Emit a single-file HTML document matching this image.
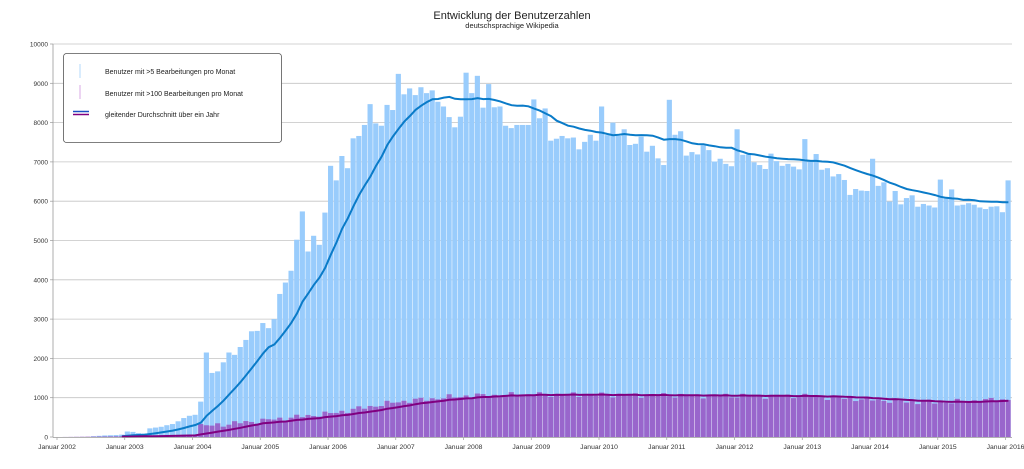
<!DOCTYPE html>
<html><head><meta charset="utf-8"><style>
html,body{margin:0;padding:0;background:#fff;}
svg{display:block;font-family:"Liberation Sans","DejaVu Sans",sans-serif;}
</style></head><body>
<svg id="c" width="1024" height="469" viewBox="0 0 1024 469" xmlns="http://www.w3.org/2000/svg">
<rect width="1024" height="469" fill="#fff"/>
<text x="512" y="19" font-size="11" text-anchor="middle" fill="#222">Entwicklung der Benutzerzahlen</text>
<text x="512" y="28" font-size="7.5" text-anchor="middle" fill="#222">deutschsprachige Wikipedia</text>
<g id="grid"></g>
<g id="bars"></g>
<g id="lines"></g>
<g id="axes"></g>
<g>
<rect x="63.5" y="53.5" width="218" height="89" rx="3" fill="#fff" stroke="#555" stroke-width="0.8"/>
<line x1="80" y1="64" x2="80" y2="78" stroke="#bfe0fb" stroke-width="1.2"/>
<text x="105" y="74" font-size="7" fill="#222">Benutzer mit &gt;5 Bearbeitungen pro Monat</text>
<line x1="80" y1="85" x2="80" y2="99" stroke="#e0b8e8" stroke-width="1.2"/>
<text x="105" y="96" font-size="7" fill="#222">Benutzer mit &gt;100 Bearbeitungen pro Monat</text>
<line x1="73" y1="111.5" x2="89" y2="111.5" stroke="#1a4fc4" stroke-width="1.5"/>
<line x1="73" y1="114.5" x2="89" y2="114.5" stroke="#800080" stroke-width="1.5"/>
<text x="105" y="117" font-size="7" fill="#222">gleitender Durchschnitt über ein Jahr</text>
</g>
</svg>
<script>
(function(){
var NS="http://www.w3.org/2000/svg";
function el(p,t,a,txt){var e=document.createElementNS(NS,t);for(var k in a)e.setAttribute(k,a[k]);if(txt!==undefined)e.textContent=txt;p.appendChild(e);return e;}
var X0=57,MW=5.646,Y0=437,S=0.0393;
function Y(v){return Y0-v*S;}
var early=[0,0,0,0,0,0,20,30,40,45,50,60,140,130,100,90,220,240,260,300,330,400];
var z4=[482,540,565,900,2150,1630,1670,1900,2150,2090,2290,2470,2690,2700,2900,2770,3000,3640,3930,4230,5020,5740,4720,5120,4890,5710,6900,6530,7150,6840,7600,7660,7940,8470,7980,7920,8450,8320,9240,8720,8870,8700,8900,8750,8820,8530,8410,8140,7880,8150,9270,8750,9190,8380,8980,8390,8410,7920,7860,7940];
var z5=[8590,8110,8360,7540,7590,7660,7600,7620,7320,7510,7690,7540,8410,7680,8000,7660,7830,7430,7460,7640,7260,7410,7090,6920,8580,7690,7780,7160,7250,7190,7420,7300,7010,7080,6950,6890,7830,7180,7190,6990,6920,6820,7210,7020,6900,6950,6880,6810,7580,7030,7200,6800,6840,6630,6690,6540,6160,6310,6270,6260,7080,6390,6480,5990,6260,5920,6080,6150,5860,5930,5890,5840,6550,6090,6300,5890,5910,5950,5910,5840,5800,5860,5870,5720,6530];
var d=early.concat(z4);
while(d.length+z5.length<169)d.push(d[d.length-1]);
d=d.concat(z5);
var knots=[[0,0],[12,20],[24,60],[25,330],[26,280],[36,420],[48,600],[60,900],[72,1050],[84,1080],[108,1060],[120,1050],[132,1040],[144,950],[150,900],[156,880],[168,960]];
function kv(m){for(var i=0;i<knots.length-1;i++){var a=knots[i],b=knots[i+1];if(m>=a[0]&&m<=b[0])return a[1]+(b[1]-a[1])*(m-a[0])/(b[0]-a[0]);}return 0;}
var p=[];for(var m=0;m<169;m++){var v=kv(m);var n=m>25?Math.sin(m*2.3)*45+Math.cos(m*5.1)*30:0;p.push(Math.max(0,v+n));}
var g=document.getElementById("grid");
for(var k=0;k<=10;k++){var y=Y(k*1000);
 if(k>0)el(g,"line",{x1:53,y1:y,x2:1012,y2:y,stroke:"#c4c4c4","stroke-width":0.8});
 el(g,"text",{x:48,y:y+2.5,"font-size":6.5,"text-anchor":"end",fill:"#333"},String(k*1000));
 el(g,"line",{x1:50,y1:y,x2:53,y2:y,stroke:"#999","stroke-width":0.7});}
var b=document.getElementById("bars");
for(var m=0;m<169;m++){var x=X0+m*MW;
 if(d[m]>0)el(b,"rect",{x:x,y:Y(d[m]),width:MW-0.5,height:d[m]*S,fill:"#99ccfc"});}
for(var m=0;m<169;m++){var x=X0+m*MW;
 if(p[m]>0)el(b,"rect",{x:x,y:Y(p[m]),width:MW-0.5,height:p[m]*S,fill:"#9966cc"});}
function ma(arr){var r=[];for(var m=11;m<169;m++){var s=0;for(var j=m-11;j<=m;j++)s+=arr[j];r.push([X0+(m+0.5)*MW,Y(s/12)]);}return r;}
function path(pts){return "M"+pts.map(function(q){return q[0].toFixed(1)+","+q[1].toFixed(1);}).join("L");}
var L=document.getElementById("lines");
el(L,"path",{d:path(ma(d)),fill:"none",stroke:"#0a7bc8","stroke-width":2});
el(L,"path",{d:path(ma(p)),fill:"none",stroke:"#800080","stroke-width":2});
var a=document.getElementById("axes");
el(a,"line",{x1:53,y1:44,x2:53,y2:437.5,stroke:"#999","stroke-width":0.8});
el(a,"line",{x1:53,y1:437.5,x2:1012,y2:437.5,stroke:"#999","stroke-width":0.8});
for(var yr=0;yr<=14;yr++){var x=X0+yr*12*MW;
 el(a,"line",{x1:x,y1:437.5,x2:x,y2:440,stroke:"#999","stroke-width":0.7});
 el(a,"text",{x:x,y:449,"font-size":6.8,"text-anchor":"middle",fill:"#333"},"Januar "+(2002+yr));}
})();
</script>
</body></html>
